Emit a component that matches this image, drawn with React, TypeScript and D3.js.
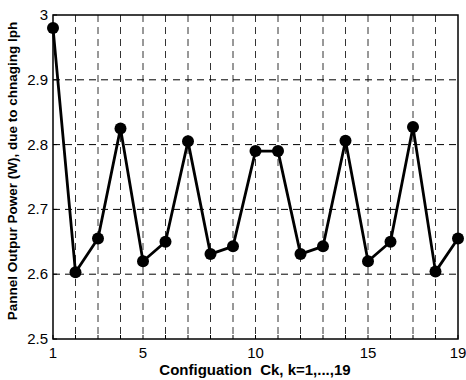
import React from "react";
import * as d3 from "d3";

const configs = [1, 2, 3, 4, 5, 6, 7, 8, 9, 10, 11, 12, 13, 14, 15, 16, 17, 18, 19];
const power = [2.98, 2.603, 2.655, 2.825, 2.62, 2.65, 2.805, 2.631, 2.643, 2.79, 2.79, 2.631, 2.643, 2.806, 2.62, 2.65, 2.827, 2.604, 2.655];
const xTicks = [1, 5, 10, 15, 19];
const yTicks = [2.5, 2.6, 2.7, 2.8, 2.9, 3];

const W = 466;
const H = 380;
const m = { top: 15, right: 8, bottom: 41, left: 53 };

export default function App() {
  const x = d3.scaleLinear().domain([1, 19]).range([m.left, W - m.right]);
  const y = d3.scaleLinear().domain([2.5, 3]).range([H - m.bottom, m.top]);
  const line = d3
    .line<number>()
    .x((_, i) => x(configs[i]))
    .y((d) => y(d));

  const x0 = x(1), x1 = x(19), y0 = y(2.5), y1 = y(3);

  return (
    <svg
      width={W}
      height={H}
      style={{ position: "absolute", left: 0, top: 0, background: "#fff" }}
      fontFamily="Arial, 'Liberation Sans', sans-serif"
    >
      {/* vertical grid */}
      {configs.slice(1, -1).map((c) => (
        <line key={"vx" + c} x1={x(c)} x2={x(c)} y1={y1} y2={y0} stroke="#333" strokeWidth={1} strokeDasharray="7,5" />
      ))}
      {/* horizontal grid */}
      {yTicks.slice(1, -1).map((t) => (
        <line key={"hy" + t} x1={x0} x2={x1} y1={y(t)} y2={y(t)} stroke="#000" strokeWidth={1} strokeDasharray="7,5" />
      ))}
      {/* frame */}
      <rect x={x0} y={y1} width={x1 - x0} height={y0 - y1} fill="none" stroke="#000" strokeWidth={1.5} />
      {/* ticks */}
      {configs.map((c) => (
        <line key={"tx" + c} x1={x(c)} x2={x(c)} y1={y0} y2={y0 - 4} stroke="#000" strokeWidth={1} />
      ))}
      {yTicks.map((t) => (
        <line key={"ty" + t} x1={x0} x2={x0 + 4} y1={y(t)} y2={y(t)} stroke="#000" strokeWidth={1} />
      ))}
      {/* data */}
      <path d={line(power) || ""} fill="none" stroke="#000" strokeWidth={2.8} strokeLinejoin="round" />
      {power.map((v, i) => (
        <circle key={"p" + i} cx={x(configs[i])} cy={y(v)} r={6} fill="#000" />
      ))}
      {/* tick labels */}
      {yTicks.map((t) => (
        <text key={"ly" + t} x={x0 - 5} y={y(t) + 5} textAnchor="end" fontSize={15}>
          {t === 3 || t === 2.5 ? String(t) : t.toFixed(1)}
        </text>
      ))}
      {xTicks.map((t) => (
        <text key={"lx" + t} x={x(t)} y={y0 + 19} textAnchor="middle" fontSize={15}>
          {t}
        </text>
      ))}
      {/* axis titles */}
      <text
        x={255}
        y={H - 5}
        textAnchor="middle"
        fontSize={15}
        fontWeight="bold"
        style={{ whiteSpace: "pre" }}
      >
        {"Configuation  Ck, k=1,...,19"}
      </text>
      <text
        transform={`translate(17,171) rotate(-90)`}
        textAnchor="middle"
        fontSize={13.5}
        fontWeight="bold"
      >
        Pannel Outpur Power (W), due to chnaging Iph
      </text>
    </svg>
  );
}
